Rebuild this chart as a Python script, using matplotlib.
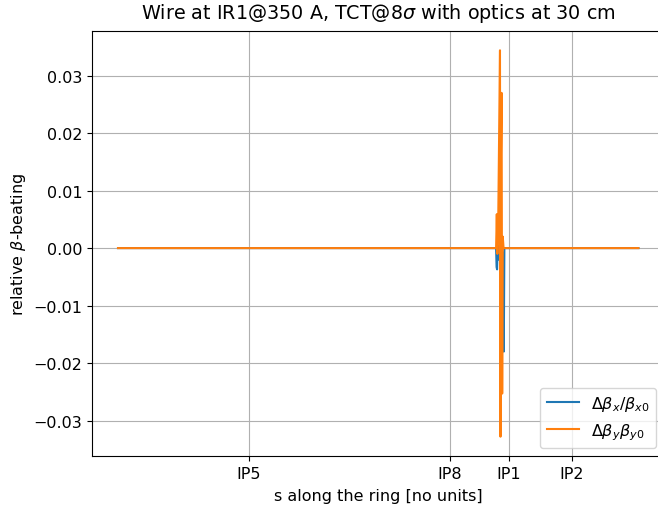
import numpy as np
import matplotlib
matplotlib.use("Agg")
import matplotlib.pyplot as plt

plt.rcParams['font.size'] = 11.5

# positions along the ring (arbitrary units, as in the plot)
s_start = 0.0
s_end = 521.0
ip_pos = [131, 332, 391, 454]
ip_names = ['IP5', 'IP8', 'IP1', 'IP2']

# beta-beating near the wire (IP1 region)
s_bx = [378.5, 379.0, 379.5, 380.0, 381.0, 382.0, 385.5, 386.2, 386.8]
bx = [0.0, -0.0033, -0.0037, 0.0005, -0.0020, 0.0003, -0.0010, -0.0180, 0.0]

s_by = [378.5, 379.2, 379.8, 380.6, 382.4, 382.9, 383.3, 384.0, 384.6, 385.2, 386.0]
by = [0.0, 0.0059, -0.0010, 0.0040, 0.0344, -0.0328, 0.0150, 0.0270, -0.0253, 0.0020, 0.0]

sx = np.concatenate([[s_start], s_bx, [s_end]])
yx = np.concatenate([[0.0], bx, [0.0]])
sy = np.concatenate([[s_start], s_by, [s_end]])
yy = np.concatenate([[0.0], by, [0.0]])

fig = plt.figure(figsize=(6.58, 5.06), dpi=100)
ax = fig.add_axes([0.1398, 0.0968, 0.870, 0.840])
ax.plot(sx, yx, label=r'$\Delta\beta_x/\beta_{x0}$')
ax.plot(sy, yy, label=r'$\Delta\beta_y\beta_{y0}$')
ax.set_xticks(ip_pos)
ax.set_xticklabels(ip_names)
ax.grid(True)
ax.set_xlabel('s along the ring [no units]', labelpad=5)
ax.set_ylabel(r'relative $\beta$-beating')
ax.set_title(r'Wire at IR1@350 A, TCT@8$\sigma$ with optics at 30 cm', fontsize=13.8, pad=9)
ax.legend(loc='lower right')
fig.savefig('out.png', dpi=100)
